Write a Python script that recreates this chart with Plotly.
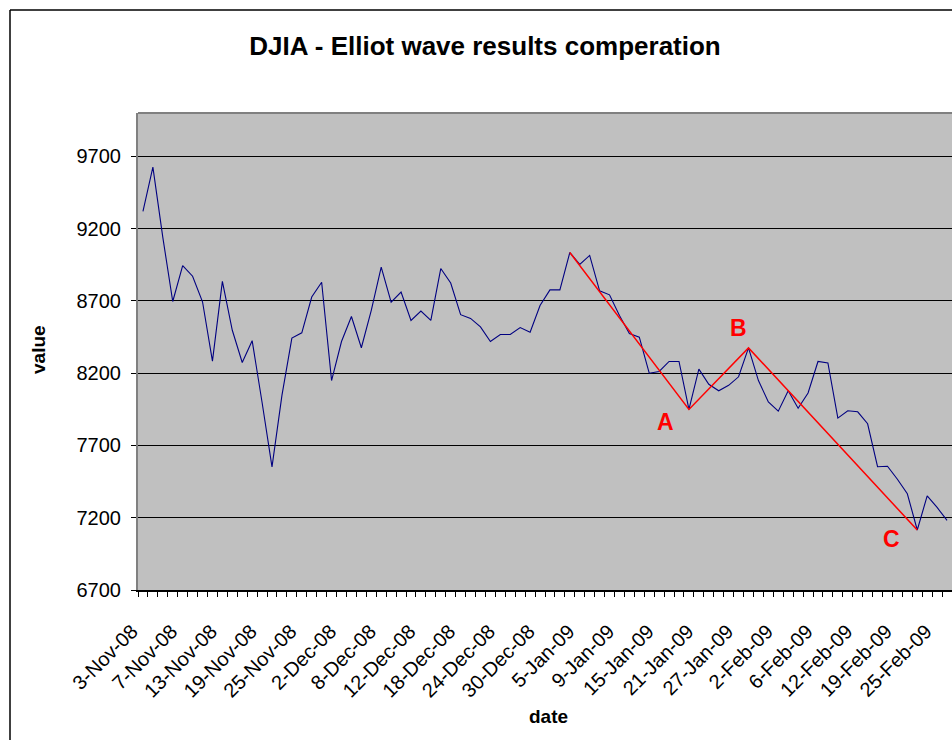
import plotly.graph_objects as go

# Trading days (holidays Dec 25, Jan 1 and Jan 19 carried forward in the sheet)
dates = [
    "3-Nov-08", "4-Nov-08", "5-Nov-08", "6-Nov-08", "7-Nov-08", "10-Nov-08", "11-Nov-08",
    "12-Nov-08", "13-Nov-08", "14-Nov-08", "17-Nov-08", "18-Nov-08", "19-Nov-08", "20-Nov-08",
    "21-Nov-08", "24-Nov-08", "25-Nov-08", "26-Nov-08", "28-Nov-08", "1-Dec-08", "2-Dec-08",
    "3-Dec-08", "4-Dec-08", "5-Dec-08", "8-Dec-08", "9-Dec-08", "10-Dec-08", "11-Dec-08",
    "12-Dec-08", "15-Dec-08", "16-Dec-08", "17-Dec-08", "18-Dec-08", "19-Dec-08", "22-Dec-08",
    "23-Dec-08", "24-Dec-08", "25-Dec-08", "26-Dec-08", "29-Dec-08", "30-Dec-08", "31-Dec-08",
    "1-Jan-09", "2-Jan-09", "5-Jan-09", "6-Jan-09", "7-Jan-09", "8-Jan-09", "9-Jan-09",
    "12-Jan-09", "13-Jan-09", "14-Jan-09", "15-Jan-09", "16-Jan-09", "19-Jan-09", "20-Jan-09",
    "21-Jan-09", "22-Jan-09", "23-Jan-09", "26-Jan-09", "27-Jan-09", "28-Jan-09", "29-Jan-09",
    "30-Jan-09", "2-Feb-09", "3-Feb-09", "4-Feb-09", "5-Feb-09", "6-Feb-09", "9-Feb-09",
    "10-Feb-09", "11-Feb-09", "12-Feb-09", "13-Feb-09", "17-Feb-09", "18-Feb-09", "19-Feb-09",
    "20-Feb-09", "23-Feb-09", "24-Feb-09", "25-Feb-09", "26-Feb-09",
]

djia_close = [
    9320, 9625, 9139, 8696, 8944, 8871, 8694,
    8283, 8835, 8497, 8274, 8425, 7997, 7552,
    8046, 8443, 8479, 8727, 8829, 8149, 8419,
    8592, 8376, 8635, 8934, 8691, 8761, 8565,
    8630, 8565, 8924, 8824, 8605, 8579, 8520,
    8419, 8468, 8468, 8516, 8484, 8668, 8776,
    8776, 9035, 8953, 9015, 8770, 8742, 8599,
    8474, 8449, 8200, 8212, 8281, 8281, 7949,
    8228, 8123, 8078, 8116, 8175, 8375, 8149,
    8001, 7937, 8078, 7957, 8063, 8281, 8271,
    7889, 7940, 7933, 7850, 7553, 7556, 7466,
    7366, 7115, 7351, 7271, 7182,
]

# Corrective A-B-C wave drawn over the index
wave_dates = ["2-Jan-09", "20-Jan-09", "28-Jan-09", "23-Feb-09"]
wave_values = [9035, 7949, 8375, 7115]
wave_labels = ["", "A", "B", "C"]

y_ticks = [6700, 7200, 7700, 8200, 8700, 9200, 9700]
label_step = 4

W, H = 952, 740
L, R, T, B = 138, 952, 113, 590  # plot-area edges in pixels
FONT = "Arial, Liberation Sans, sans-serif"


def px_x(p):
    return (p - L) / (R - L)


def px_y(p):
    return (B - p) / (B - T)


tick_text = [d if i % label_step == 0 else "" for i, d in enumerate(dates)]

fig = go.Figure()
fig.add_trace(go.Scatter(
    x=dates, y=djia_close, mode="lines",
    line=dict(color="#000080", width=1.1),
    hoverinfo="x+y", showlegend=False,
))
fig.add_trace(go.Scatter(
    x=wave_dates, y=wave_values, mode="lines",
    line=dict(color="#FF0000", width=1.5),
    showlegend=False,
))

annotations = []
label_offsets = {"A": (-23, -13), "B": (-10, 20), "C": (-26, -9)}
for d, v, lab in zip(wave_dates, wave_values, wave_labels):
    if not lab:
        continue
    dx, dy = label_offsets[lab]
    annotations.append(dict(
        x=d, y=v, xref="x", yref="y", text=lab, showarrow=False,
        xshift=dx, yshift=dy,
        font=dict(family=FONT, size=23, color="#FF0000", weight="bold"),
    ))

annotations.append(dict(
    x=px_x(548), y=px_y(716), xref="paper", yref="paper", text="<b>date</b>",
    showarrow=False, xanchor="center", yanchor="middle",
    font=dict(family=FONT, size=19, color="black"),
))
annotations.append(dict(
    x=px_x(38), y=px_y(350), xref="paper", yref="paper", text="<b>value</b>",
    showarrow=False, xanchor="center", yanchor="middle", textangle=-90,
    font=dict(family=FONT, size=19, color="black"),
))

shapes = [
    # outer chart frame
    dict(type="line", xref="paper", yref="paper", x0=px_x(10), x1=px_x(970),
         y0=px_y(10), y1=px_y(10), line=dict(color="black", width=1.5)),
    dict(type="line", xref="paper", yref="paper", x0=px_x(10), x1=px_x(10),
         y0=px_y(10), y1=px_y(760), line=dict(color="black", width=1.5)),
    # plot-area top border
    dict(type="line", xref="paper", yref="paper", x0=0, x1=1.02, y0=1, y1=1,
         line=dict(color="#808080", width=2)),
]

fig.update_layout(
    width=W, height=H,
    margin=dict(l=L, r=W - R, t=T, b=H - B, autoexpand=False),
    paper_bgcolor="white",
    plot_bgcolor="#C0C0C0",
    title=dict(
        text="<b>DJIA - Elliot wave results comperation</b>",
        x=485 / W, xref="container", xanchor="center",
        y=1 - 46 / H, yref="container", yanchor="middle",
        font=dict(family=FONT, size=26, color="black"),
    ),
    xaxis=dict(
        type="category", categoryorder="array", categoryarray=dates,
        range=[-0.5, len(dates) - 0.5],
        tickmode="array", tickvals=dates, ticktext=tick_text,
        tickson="boundaries", ticks="outside", ticklen=5, tickcolor="black", tickwidth=1,
        tickangle=-45, tickfont=dict(family=FONT, size=20, color="black"),
        ticklabelstandoff=20, ticklabelshift=-11,
        showgrid=False, showline=True, linecolor="black", linewidth=1.5,
        zeroline=False,
    ),
    yaxis=dict(
        range=[6700, 10000], tickmode="array", tickvals=y_ticks,
        ticks="outside", ticklen=5, tickcolor="black", tickwidth=1,
        tickfont=dict(family=FONT, size=20, color="black"),
        ticklabelstandoff=6,
        showgrid=True, gridcolor="black", gridwidth=1,
        showline=True, linecolor="#808080", linewidth=2,
        zeroline=False,
    ),
    annotations=annotations,
    shapes=shapes,
)

fig.write_html("out.html")
